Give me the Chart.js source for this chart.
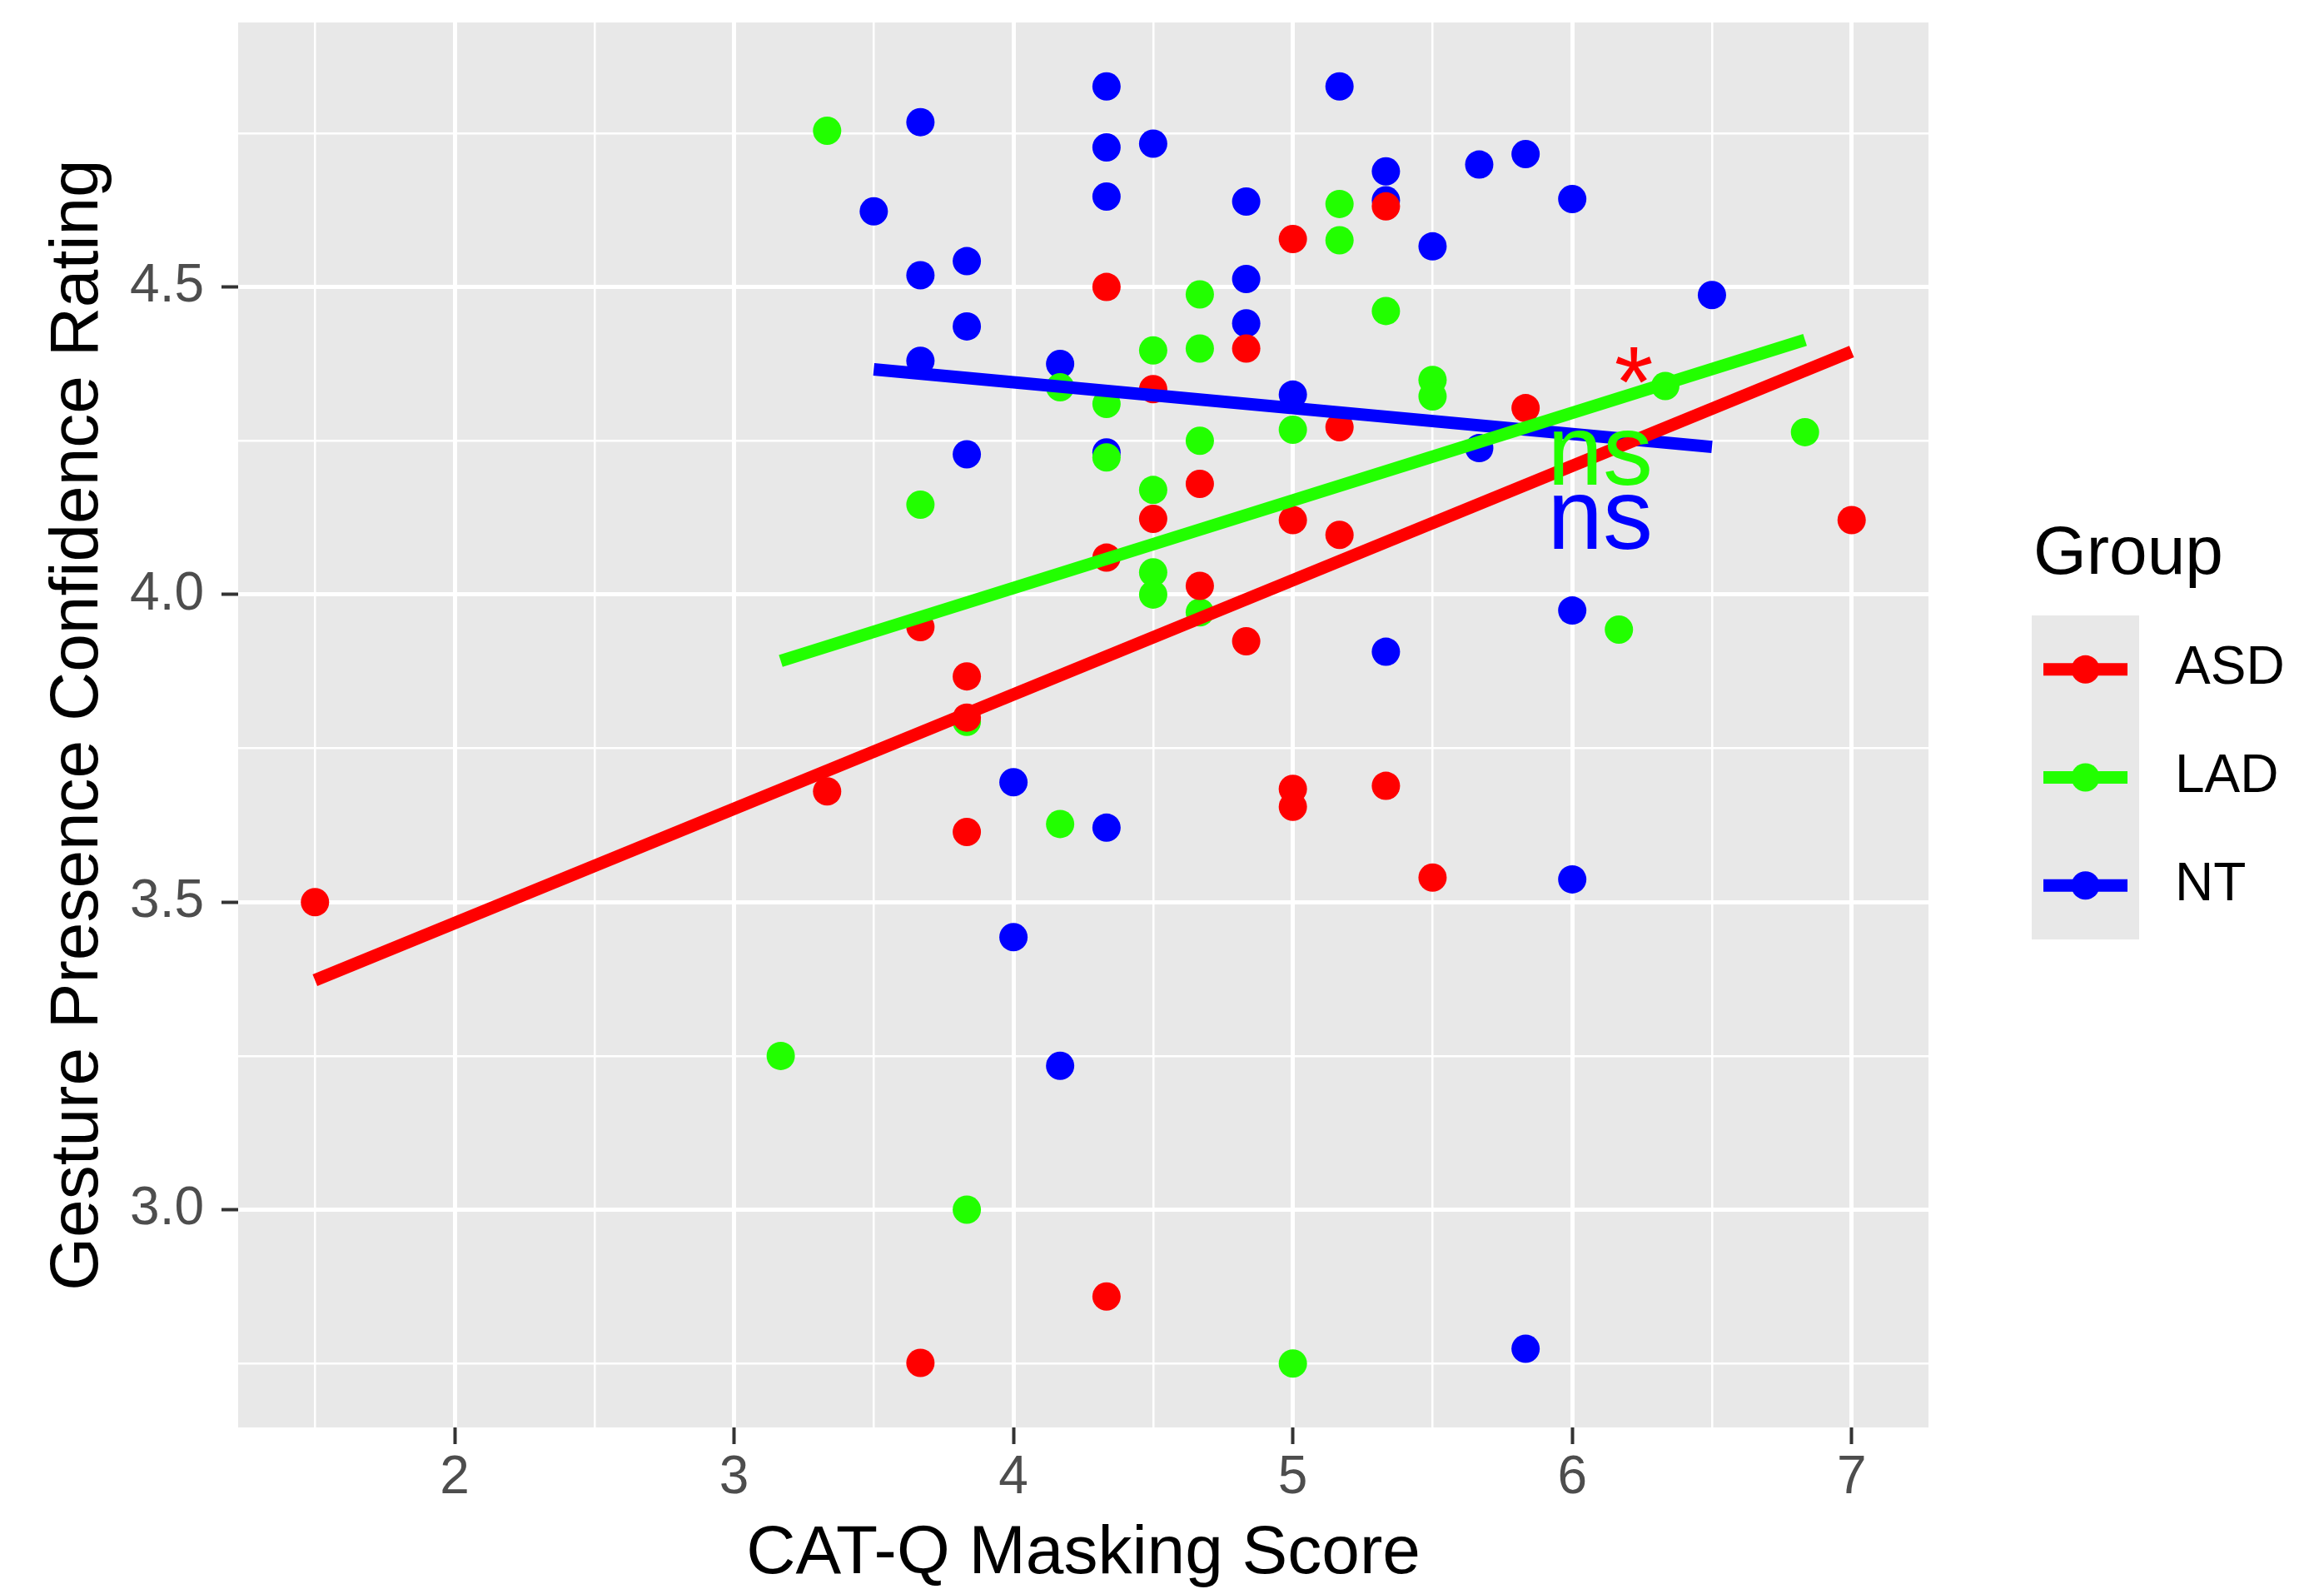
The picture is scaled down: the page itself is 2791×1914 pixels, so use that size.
<!DOCTYPE html>
<html>
<head>
<meta charset="utf-8">
<title>Gesture Presence Confidence vs CAT-Q Masking</title>
<script src="https://cdn.jsdelivr.net/npm/chart.js@4.4.1/dist/chart.umd.min.js"></script>
<style>
    html, body { margin: 0; padding: 0; background: #ffffff; }
    #wrap { width: 2791px; height: 1914px; position: relative; }
</style>
</head>
<body>
<div id="wrap"><canvas id="chart" width="2791" height="1914"></canvas></div>
<script>
    // Data
    var groups = ['ASD', 'LAD', 'NT'];
    var groupColors = ['#ff0000', '#22ff00', '#0000ff'];

    var asdX = [1.5, 3.333, 3.667, 3.667, 3.833, 3.833, 3.833, 4.333, 4.333, 4.333, 4.5, 4.5, 4.667, 4.667,
        4.833, 4.833, 5, 5, 5, 5, 5.167, 5.167, 5.333, 5.333, 5.5, 5.833, 7];
    var asdY = [3.50, 3.68, 3.947, 2.751, 3.867, 3.80, 3.614, 4.50, 4.06, 2.859, 4.334, 4.123, 4.18, 4.014,
        4.40, 3.924, 4.578, 4.121, 3.684, 3.655, 4.272, 4.097, 4.631, 3.689, 3.540, 4.303, 4.121];

    var ladX = [3.167, 3.333, 3.667, 3.833, 3.833, 4.167, 4.167, 4.333, 4.333, 4.5, 4.5, 4.5, 4.5, 4.667,
        4.667, 4.667, 4.667, 5, 5, 5.167, 5.167, 5.333, 5.5, 5.5, 6.167, 6.333, 6.833];
    var ladY = [3.25, 4.754, 4.146, 3.793, 3.0, 4.337, 3.627, 4.31, 4.223, 4.397, 4.17, 4.036, 4.0, 4.488,
        4.40, 4.25, 3.971, 4.268, 2.75, 4.635, 4.576, 4.461, 4.349, 4.322, 3.943, 4.339, 4.264];

    var ntX = [3.5, 3.667, 3.667, 3.667, 3.833, 3.833, 3.833, 4, 4, 4.167, 4.167, 4.333, 4.333, 4.333, 4.333,
        4.333, 4.5, 4.833, 4.833, 4.833, 5, 5.167, 5.333, 5.333, 5.333, 5.5, 5.667, 5.667, 5.833, 5.833,
        6, 6, 6, 6.5];
    var ntY = [4.623, 4.768, 4.519, 4.380, 4.542, 4.436, 4.228, 3.695, 3.443, 4.375, 3.234, 4.826, 4.727,
        4.647, 4.231, 3.621, 4.733, 4.639, 4.513, 4.441, 4.325, 4.826, 4.688, 4.641, 3.907, 4.566, 4.699,
        4.238, 4.716, 2.774, 4.643, 3.974, 3.537, 4.487];

    // fitted lm lines, read at both ends of each group's x range
    var asdFitY = [3.373, 4.395];
    var ladFitY = [3.892, 4.414];
    var ntFitY = [4.366, 4.240];

    var xTicks = [1.5, 2, 2.5, 3, 3.5, 4, 4.5, 5, 5.5, 6, 6.5, 7];
    var yTicks = [2.75, 3, 3.25, 3.5, 3.75, 4, 4.25, 4.5, 4.75];

    // significance labels (x centre, baseline y in data units)
    var sigLabels = ['*', 'ns', 'ns'];
    var sigX = [6.22, 6.1, 6.1];
    var sigY = [4.289, 4.178, 4.075];

    var FONT = '"Liberation Sans", Arial, Helvetica, sans-serif';
    var PANEL = '#e8e8e8';

    function toPoints(xs, ys) {
        return xs.map(function(x, i) { return { x: x, y: ys[i] }; });
    }

    // fit line spans the group's own x range
    function fitLine(xs, fitY) {
        var lo = Math.min.apply(null, xs), hi = Math.max.apply(null, xs);
        return [{ x: lo, y: fitY[0] }, { x: hi, y: fitY[1] }];
    }

    var seriesX = [asdX, ladX, ntX];
    var seriesY = [asdY, ladY, ntY];
    var seriesFit = [asdFitY, ladFitY, ntFitY];
    var datasets = [];

    groups.forEach(function(g, i) {
        datasets.push({
            type: 'line',
            label: g + ' fit',
            data: fitLine(seriesX[i], seriesFit[i]),
            borderColor: groupColors[i],
            borderWidth: 15,
            borderCapStyle: 'butt',
            pointRadius: 0,
            fill: false,
            order: 0
        });
    });
    groups.forEach(function(g, i) {
        datasets.push({
            type: 'scatter',
            label: g,
            data: toPoints(seriesX[i], seriesY[i]),
            backgroundColor: groupColors[i],
            borderWidth: 0,
            pointRadius: 17,
            pointHoverRadius: 17,
            order: 1
        });
    });

    function isMajorX(v) { return Math.abs(v - Math.round(v)) < 1e-6; }
    function isMajorY(v) { return Math.abs(v * 2 - Math.round(v * 2)) < 1e-6; }

    var panelBg = {
        id: 'panelBg',
        beforeDraw: function(chart) {
            var a = chart.chartArea, c = chart.ctx;
            c.save();
            c.fillStyle = PANEL;
            c.fillRect(a.left, a.top, a.right - a.left, a.bottom - a.top);
            c.restore();
        }
    };

    var sigText = {
        id: 'sigText',
        afterDatasetsDraw: function(chart) {
            var c = chart.ctx, xs = chart.scales.x, ys = chart.scales.y;
            c.save();
            c.font = '120px ' + FONT;
            c.textAlign = 'center';
            c.textBaseline = 'alphabetic';
            sigLabels.forEach(function(t, i) {
                c.fillStyle = groupColors[i];
                c.fillText(t, xs.getPixelForValue(sigX[i]), ys.getPixelForValue(sigY[i]));
            });
            c.restore();
        }
    };

    var groupLegend = {
        id: 'groupLegend',
        afterDraw: function(chart) {
            var c = chart.ctx;
            var boxL = 2440, boxT = 739, boxW = 129, keyH = 129.7;
            c.save();
            c.fillStyle = '#000000';
            c.font = '82px ' + FONT;
            c.textAlign = 'left';
            c.textBaseline = 'middle';
            c.fillText('Group', 2442, 666);

            c.fillStyle = PANEL;
            c.fillRect(boxL, boxT, boxW, keyH * groups.length);

            groups.forEach(function(g, i) {
                var cy = boxT + keyH * i + keyH / 2;
                c.strokeStyle = groupColors[i];
                c.lineWidth = 15;
                c.lineCap = 'butt';
                c.beginPath();
                c.moveTo(boxL + 14, cy);
                c.lineTo(boxL + boxW - 14, cy);
                c.stroke();
                c.fillStyle = groupColors[i];
                c.beginPath();
                c.arc(boxL + boxW / 2, cy, 17, 0, Math.PI * 2);
                c.fill();
                c.fillStyle = '#000000';
                c.font = '64px ' + FONT;
                c.fillText(g, 2612, cy);
            });
            c.restore();
        }
    };

    function noEdgePadding(scale) {
        scale.paddingTop = 0;
        scale.paddingBottom = 0;
        scale.paddingLeft = 0;
        scale.paddingRight = 0;
    }

    new Chart(document.getElementById('chart').getContext('2d'), {
        type: 'scatter',
        data: { datasets: datasets },
        options: {
            responsive: false,
            devicePixelRatio: 1,
            animation: false,
            events: [],
            layout: { padding: { left: 0, top: 27, right: 475, bottom: 0 } },
            plugins: {
                legend: { display: false },
                tooltip: { enabled: false }
            },
            scales: {
                x: {
                    type: 'linear',
                    min: 1.225,
                    max: 7.275,
                    afterBuildTicks: function(scale) {
                        scale.ticks = xTicks.map(function(v) { return { value: v }; });
                    },
                    afterFit: function(scale) { scale.height = 200; noEdgePadding(scale); },
                    border: { display: false },
                    grid: {
                        color: '#ffffff',
                        lineWidth: function(ctx) { return ctx.tick && isMajorX(ctx.tick.value) ? 5 : 2.5; },
                        tickColor: function(ctx) { return ctx.tick && isMajorX(ctx.tick.value) ? '#333333' : 'rgba(0,0,0,0)'; },
                        tickWidth: 4,
                        tickLength: 20,
                        drawTicks: true
                    },
                    ticks: {
                        autoSkip: false,
                        maxRotation: 0,
                        padding: 3,
                        color: '#4d4d4d',
                        font: { family: FONT, size: 64 },
                        callback: function(v) { return isMajorX(v) ? String(Math.round(v)) : ''; }
                    },
                    title: {
                        display: true,
                        text: 'CAT-Q Masking Score',
                        color: '#000000',
                        font: { family: FONT, size: 82, lineHeight: 1 },
                        padding: { top: 0, bottom: 7 }
                    }
                },
                y: {
                    type: 'linear',
                    min: 2.646,
                    max: 4.93,
                    afterBuildTicks: function(scale) {
                        scale.ticks = yTicks.map(function(v) { return { value: v }; });
                    },
                    afterFit: function(scale) { scale.width = 286; noEdgePadding(scale); },
                    border: { display: false },
                    grid: {
                        color: '#ffffff',
                        lineWidth: function(ctx) { return ctx.tick && isMajorY(ctx.tick.value) ? 5 : 2.5; },
                        tickColor: function(ctx) { return ctx.tick && isMajorY(ctx.tick.value) ? '#333333' : 'rgba(0,0,0,0)'; },
                        tickWidth: 4,
                        tickLength: 20,
                        drawTicks: true
                    },
                    ticks: {
                        autoSkip: false,
                        padding: 21,
                        color: '#4d4d4d',
                        font: { family: FONT, size: 64 },
                        callback: function(v) { return isMajorY(v) ? v.toFixed(1) : ''; }
                    },
                    title: {
                        display: true,
                        text: 'Gesture Presence Confidence Rating',
                        color: '#000000',
                        font: { family: FONT, size: 82, lineHeight: 1 },
                        padding: { top: 53, bottom: 0 }
                    }
                }
            }
        },
        plugins: [panelBg, sigText, groupLegend]
    });
</script>
</body>
</html>
